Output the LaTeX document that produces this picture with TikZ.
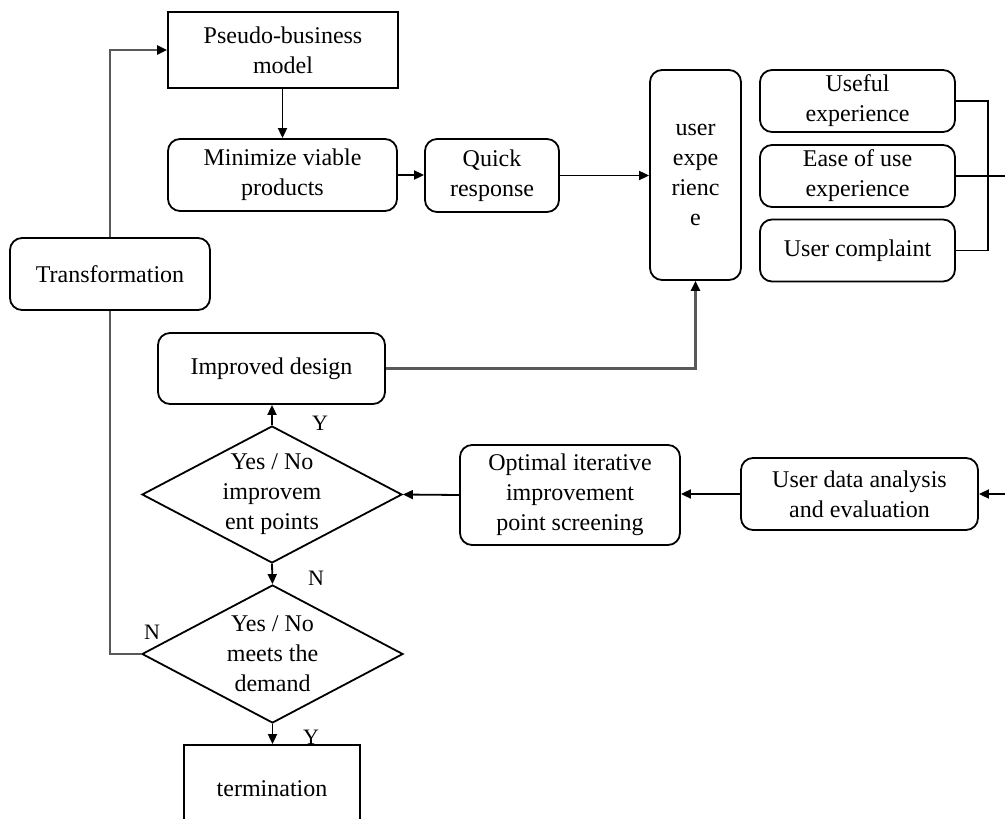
\documentclass[tikz,border=0pt]{standalone}
\usepackage{fontspec}
\setmainfont{Liberation Serif}
\usetikzlibrary{shapes.geometric,arrows.meta}
\begin{document}
\begin{tikzpicture}[x=0.5pt,y=-0.5pt,
  font=\fontsize{12}{15}\selectfont,
  line width=0.9pt,
  arr/.style={-{Triangle[length=5pt,width=4.5pt,color=black]}},
  loopline/.style={draw=black!65,line width=1.3pt},
  sharpbox/.style={draw,rectangle,align=center,inner sep=2pt},
  roundbox/.style={draw,rectangle,rounded corners=6pt,align=center,inner sep=2pt},
  choice/.style={draw,diamond,aspect=1.9,inner sep=0pt,align=center},
  yn/.style={font=\fontsize{11}{13}\selectfont,inner sep=0pt}]
\useasboundingbox (0,0) rectangle (1005,818);
\clip (0,0) rectangle (1005,818);

% process boxes
\node[sharpbox,minimum width=115pt,minimum height=38pt] (pseudo) at (283,50) {Pseudo-business\\model};
\node[roundbox,minimum width=114.5pt,minimum height=36pt] (mvp) at (282.5,175) {Minimize viable\\products};
\node[roundbox,minimum width=67pt,minimum height=36.5pt] (quick) at (492,175.5) {Quick\\response};
\node[roundbox,minimum width=45.5pt,minimum height=105pt] (ux) at (695.5,175) {user\\expe\\rienc\\e};
\node[roundbox,minimum width=97.5pt,minimum height=31pt] (useful) at (857.5,101) {Useful\\experience};
\node[roundbox,minimum width=97.5pt,minimum height=31pt] (ease) at (857.5,176) {Ease of use\\experience};
\node[roundbox,minimum width=97.5pt,minimum height=31pt] (complaint) at (857.5,250.5) {User complaint};
\node[roundbox,minimum width=100pt,minimum height=36pt] (trans) at (110,274) {Transformation};
\node[roundbox,minimum width=113.5pt,minimum height=35.5pt] (improved) at (271.5,368.5) {Improved design};
\node[roundbox,minimum width=118.5pt,minimum height=36pt] (data) at (859.5,494) {User data analysis\\and evaluation};
\node[roundbox,minimum width=110pt,minimum height=50pt] (optimal) at (570,495) {Optimal iterative\\improvement\\point screening};
\node[choice,minimum width=130pt,minimum height=68.5pt] (dimp) at (272,494.5) {Yes / No\\improvem\\ent points};
\node[choice,minimum width=130.5pt,minimum height=69pt] (ddem) at (272.5,654) {Yes / No\\meets the\\demand};
\node[sharpbox,minimum width=88pt,minimum height=44pt] (term) at (272,789) {termination};

% free ends at the right border and the bracket column
\coordinate (brk) at (988,0);
\coordinate (rEase) at (1005,176);
\coordinate (rData) at (1005,494);

% connectors
\draw[arr] (mvp.north |- pseudo.south) -- (mvp.north);
\draw[arr] (mvp.east) -- (mvp.east -| quick.west);
\draw[arr] (quick.east) -- (quick.east -| ux.west);
\draw (useful.east) -| (brk |- complaint.east) -- (complaint.east);
\draw (ease.east) -- (rEase);
\draw[arr] (rData) -- (data.east);
\draw[arr] (data.west) -- (data.west -| optimal.east);
\draw[arr] (optimal.west) -- (dimp.east);
\draw[arr] (dimp.north) -- (dimp.north |- improved.south);
\draw[arr,loopline] (improved.east) -| (ux.south);
\draw[arr] (dimp.south) -- (ddem.north);
\draw[arr] (ddem.south) -- (ddem.south |- term.north);
\draw[loopline] (ddem.west) -| (trans.south);
\draw[arr,loopline] (trans.north) |- (pseudo.west);

% decision labels
\node[yn] (y1) at (320,423) {Y};
\node[yn] (n1) at (316,578) {N};
\node[yn] (n2) at (152,632) {N};
\node[yn] (y2) at (311,737) {Y};
\end{tikzpicture}
\end{document}
